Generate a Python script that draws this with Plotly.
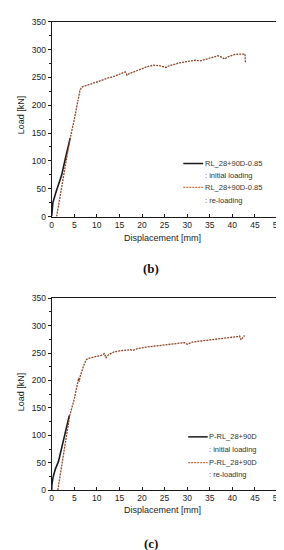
import plotly.graph_objects as go

# ---------------- data ----------------
# (b) RL_28+90D-0.85
b_init_x = [0, 0.05, 0.28, 1.0, 2.2, 3.0, 3.9, 4.1]
b_init_y = [0, 10, 25, 45, 74, 103, 136, 141]
b_re_x = [1.1, 2.0, 3.0, 4.0, 5.0, 5.8, 6.3, 6.8, 7.6, 8.5, 9.8, 11.0, 12.4, 13.5, 15.2, 16.3,
          16.7, 17.2, 18.5, 19.6, 21.0, 22.5, 24.0, 25.3, 26.0, 28.2, 30.0, 31.8, 33.0, 34.7,
          35.5, 36.8, 37.5, 38.3, 39.0, 40.4, 41.5, 42.5, 42.8, 42.9]
b_re_y = [0, 42, 89, 137, 174, 207, 228, 233, 236, 238, 241, 245, 249, 251, 256, 260,
          254, 257, 261, 265, 269, 272, 271, 268, 271, 276, 278, 281, 280, 284,
          285, 289, 287, 283, 287, 291, 292, 293, 292, 276]

# (c) P-RL_28+90D
c_init_x = [0, 0.05, 0.3, 0.8, 1.5, 2.5, 3.3, 3.9]
c_init_y = [0, 10, 23, 38, 52, 88, 115, 136]
c_re_x = [1.36, 2.0, 3.0, 4.0, 5.0, 5.8, 6.0, 6.1, 6.3, 7.0, 7.6, 8.0, 9.8, 11.0, 11.7, 12.0,
          12.6, 13.8, 15.0, 17.4, 18.0, 19.0, 21.0, 24.6, 26.0, 28.2, 29.4, 30.0, 31.1, 33.0,
          35.4, 38.0, 41.1, 41.6, 41.9, 42.3, 42.7]
c_re_y = [0, 33, 84, 136, 166, 195, 205, 198, 207, 225, 237, 240, 243, 246, 249, 241,
          247, 252, 254, 256, 255, 258, 261, 264, 266, 268, 269, 266, 270, 272,
          274, 277, 280, 281, 274, 278, 282]

x_ticks = [0, 5, 10, 15, 20, 25, 30, 35, 40, 45, 50]
y_ticks = [0, 50, 100, 150, 200, 250, 300, 350]

legend_b = ["RL_28+90D-0.85", ": initial loading", "RL_28+90D-0.85", ": re-loading"]
legend_c = ["P-RL_28+90D", ": initial loading", "P-RL_28+90D", ": re-loading"]
panel_labels = ["(b)", "(c)"]

# ---------------- style ----------------
W, H = 284, 550
FONT = "Liberation Sans, Arial, sans-serif"
BLACK = "#1a1a1a"
RELOAD = "#8f4526"

def px_x(p):
    return p / W

def px_y(p):
    return 1 - p / H

fig = go.Figure()

fig.add_trace(go.Scatter(x=b_init_x, y=b_init_y, mode="lines", xaxis="x", yaxis="y",
                         line=dict(color=BLACK, width=1.6), showlegend=False))
fig.add_trace(go.Scatter(x=b_re_x, y=b_re_y, mode="lines", xaxis="x", yaxis="y",
                         line=dict(color=RELOAD, width=1.3, dash="2px,1px"), showlegend=False))
fig.add_trace(go.Scatter(x=c_init_x, y=c_init_y, mode="lines", xaxis="x2", yaxis="y2",
                         line=dict(color=BLACK, width=1.6), showlegend=False))
fig.add_trace(go.Scatter(x=c_re_x, y=c_re_y, mode="lines", xaxis="x2", yaxis="y2",
                         line=dict(color=RELOAD, width=1.3, dash="2px,1px"), showlegend=False))

xdom = [px_x(42.7), px_x(274.3)]
dom_b = [px_y(207.3), px_y(9)]
dom_c = [px_y(486), px_y(290.5)]

def xaxis(anchor):
    return dict(domain=xdom, anchor=anchor, range=[0, 50], tickvals=x_ticks,
                ticks="inside", ticklen=3, tickcolor=BLACK, showline=True, linecolor=BLACK,
                linewidth=1, mirror=True, showgrid=False, zeroline=False,
                tickfont=dict(family=FONT, size=8.5, color="#222"))

def yaxis(anchor, dom):
    return dict(domain=dom, anchor=anchor, range=[0, 350], tickvals=y_ticks,
                ticks="outside", ticklen=3, tickcolor=BLACK, showline=True, linecolor=BLACK,
                linewidth=1, mirror=True, showgrid=False, zeroline=False,
                minor=dict(dtick=25, ticks="outside", ticklen=2, tickcolor=BLACK),
                tickfont=dict(family=FONT, size=8.5, color="#222"))

fig.update_layout(
    width=W, height=H, margin=dict(l=0, r=0, t=0, b=0),
    paper_bgcolor="white", plot_bgcolor="white", showlegend=False,
    xaxis=xaxis("y"), yaxis=yaxis("x", dom_b),
    xaxis2=xaxis("y2"), yaxis2=yaxis("x2", dom_c),
)

annotations = []
shapes = []

# axis titles
for x_title_y, y_title_y in [(229, 104), (506.7, 386)]:
    annotations.append(dict(text="Displacement [mm]", x=px_x(156), y=px_y(x_title_y),
                            xref="paper", yref="paper", showarrow=False,
                            xanchor="center", yanchor="middle",
                            font=dict(family=FONT, size=9, color="#222")))
    annotations.append(dict(text="Load [kN]", x=px_x(11.5), y=px_y(y_title_y),
                            xref="paper", yref="paper", showarrow=False, textangle=-90,
                            xanchor="center", yanchor="middle",
                            font=dict(family=FONT, size=9, color="#222")))

# legends
def add_legend(texts, x0, x1, xt, ys):
    for i, (t, yy) in enumerate(zip(texts, ys)):
        annotations.append(dict(text=t, x=px_x(xt), y=px_y(yy), xref="paper", yref="paper",
                                showarrow=False, xanchor="left", yanchor="middle",
                                font=dict(family=FONT, size=7.5, color="#333")))
    shapes.append(dict(type="line", xref="paper", yref="paper", x0=px_x(x0), x1=px_x(x1),
                       y0=px_y(ys[0]), y1=px_y(ys[0]), line=dict(color=BLACK, width=1.5)))
    shapes.append(dict(type="line", xref="paper", yref="paper", x0=px_x(x0), x1=px_x(x1),
                       y0=px_y(ys[2]), y1=px_y(ys[2]),
                       line=dict(color="#c8703c", width=1.2, dash="2px,1px")))

add_legend(legend_b, 177.7, 198, 197.5, [153.3, 165.7, 177.7, 191])
add_legend(legend_c, 182.7, 202.7, 202, [431.7, 444.7, 458, 470])

# panel labels
for lab, yy in zip(panel_labels, [260.7, 540]):
    annotations.append(dict(text="<b>%s</b>" % lab, x=px_x(145), y=px_y(yy),
                            xref="paper", yref="paper", showarrow=False,
                            xanchor="center", yanchor="middle",
                            font=dict(family="Liberation Serif, Times New Roman, serif",
                                      size=13, color="#111")))

fig.update_layout(annotations=annotations, shapes=shapes)
fig.write_html("out.html")
